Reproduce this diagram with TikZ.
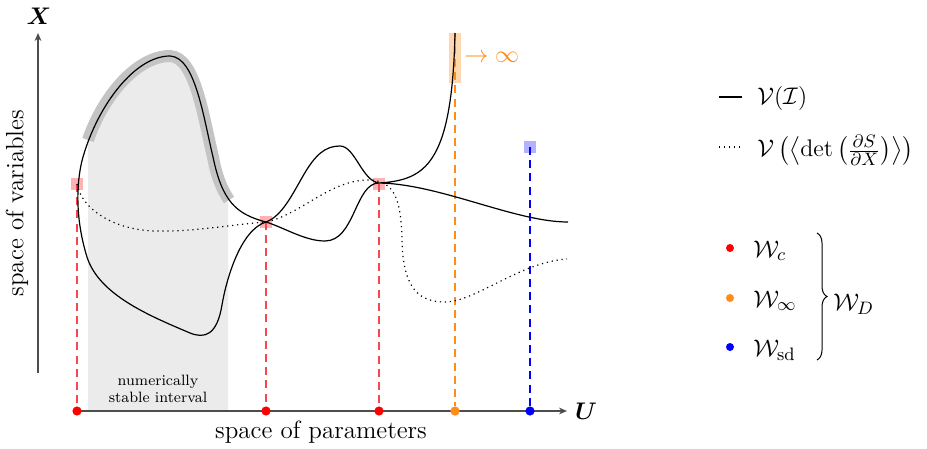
\documentclass[tikz,border=0pt]{standalone}
\usepackage{amsmath}
\usetikzlibrary{arrows.meta,decorations.pathreplacing}
\definecolor{WRed}{HTML}{FF0000}
\definecolor{WRedDash}{HTML}{F2484E}
\definecolor{WOrange}{HTML}{FF8C1A}
\definecolor{WBlue}{HTML}{0000FF}
\definecolor{WAxis}{HTML}{4D4D4D}
\definecolor{WStable}{HTML}{EBEBEB}
\definecolor{WBand}{HTML}{C4C4C4}
\tikzset{
  plAxis/.style={
    line width=0.7pt,
    draw=WAxis,
    -{Stealth[length=4pt,width=3.4pt]}
  },
  plCurve/.style={
    line width=0.6pt
  },
  plDotted/.style={
    plCurve,
    dash pattern=on 0.6pt off 1.9pt
  },
  plBand/.style={
    line width=6pt,
    draw=WBand
  },
  plDash/.style={
    line width=0.6pt,
    dash pattern=on 4pt off 2.6pt
  },
  plDot/.style={
    circle,
    fill,
    inner sep=0pt,
    minimum size=4.6pt
  },
  plMark/.style={
    rectangle,
    inner sep=0pt,
    minimum size=6pt
  },
  lgText/.style={
    font=\fontsize{13pt}{15pt}\selectfont,
    anchor=base west,
    inner sep=0pt
  },
  axText/.style={
    font=\fontsize{12.5pt}{15pt}\selectfont,
    inner sep=0pt
  }
}
\begin{document}
\begin{tikzpicture}[x=0.5pt, y=-0.5pt]
  \useasboundingbox (0,0) rectangle (927,449);

  % stable interval and highlighted branch
  \begin{scope}
    \clip (88,0) rectangle (228,411);
    \fill[WStable] (266,222) .. controls (235,214) and (222,200) .. (213,157)
      .. controls (203,115) and (195,57) .. (170,56)
      .. controls (135,56) and (98,105) .. (83,157) -- (83,411) -- (266,411) -- cycle;
  \end{scope}
  \draw[plBand] (229,200) .. controls (221,188) and (216,174) .. (213,157)
    .. controls (203,115) and (195,57) .. (170,56)
    .. controls (137,56) and (103,96) .. (88,140);
  \node[axText, align=center, font=\fontsize{7.5pt}{8.6pt}\selectfont] (stable) at (158,389) {numerically\\stable interval};

  % axes
  \coordinate (yBot) at (38,373);
  \coordinate (yTop) at (38,33);
  \coordinate (xStart) at (77,411);
  \coordinate (xEnd) at (567,411);
  \draw[plAxis] (yBot) -- (yTop);
  \draw[plAxis] (xStart) -- (xEnd);
  \node[plDot, WRed] (cRedA) at (77,411) {};
  \node[plDot, WRed] (cRedB) at (266,411) {};
  \node[plDot, WRed] (cRedC) at (379,411) {};
  \node[plDot, WOrange] (cOrange) at (455,411) {};
  \node[plDot, WBlue] (cBlue) at (530,411) {};

  \node[plMark, fill=red!30] (mRedA) at (77,184) {};
  \node[plMark, fill=red!30] (mRedB) at (266,222) {};
  \node[plMark, fill=red!30] (mRedC) at (379,184) {};
  \node[plMark, fill=WOrange!35, minimum height=25pt] (mOrange) at (455,58) {};
  \node[plMark, fill=blue!30] (mBlue) at (530,147) {};

  \draw[plDash, WRedDash] (mRedA.center) -- (cRedA.north);
  \draw[plDash, WRedDash] (mRedB.center) -- (cRedB.north);
  \draw[plDash, WRedDash] (mRedC.center) -- (cRedC.north);
  \draw[plDash, WOrange] (mOrange.north) -- (cOrange.north);
  \draw[plDash, WBlue] (mBlue.center) -- (cBlue.north);

  % curves
  \draw[plCurve] (568,222) .. controls (515,222) and (440,184) .. (379,183)
    .. controls (355,183) and (355,241) .. (325,241)
    .. controls (305,241) and (285,228) .. (266,222)
    .. controls (235,214) and (222,200) .. (213,157)
    .. controls (203,115) and (195,57) .. (170,56)
    .. controls (135,56) and (98,105) .. (83,157)
    .. controls (77,178) and (74,215) .. (87,257)
    .. controls (99,295) and (150,316) .. (190,333)
    .. controls (205,339) and (217,335) .. (222,305)
    .. controls (226,281) and (240,230) .. (266,222)
    .. controls (282,216) and (292,195) .. (303,176)
    .. controls (315,155) and (325,146) .. (340,146)
    .. controls (355,146) and (362,181) .. (379,183)
    .. controls (425,180) and (452,165) .. (455,33);
  \draw[plDotted] (77,184) .. controls (82,210) and (115,230) .. (155,231)
    .. controls (195,232) and (235,224) .. (266,222)
    .. controls (300,215) and (330,180) .. (368,180)
    .. controls (395,180) and (401,200) .. (402,240)
    .. controls (403,290) and (420,302) .. (445,302)
    .. controls (475,302) and (520,262) .. (567,259);

  % labels
  \node[axText, rotate=90] (yLabel) at (17,203) {space of variables};
  \node[axText] (xLabel) at (321,432) {space of parameters};
  \node[axText, font=\fontsize{12pt}{14pt}\selectfont] (xName) at (39,16) {$\boldsymbol{X}$};
  \node[axText, font=\fontsize{12pt}{14pt}\selectfont] (uName) at (586,411) {$\boldsymbol{U}$};
  \node[lgText, anchor=west, text=WOrange] (infLabel) at (464,57) {$\to\infty$};

  % legend
  \coordinate (lgSolidA) at (719,97);
  \coordinate (lgSolidB) at (742,97);
  \coordinate (lgDotA) at (719,147);
  \coordinate (lgDotB) at (742,147);
  \draw[plCurve] (lgSolidA) -- (lgSolidB);
  \draw[plDotted] (lgDotA) -- (lgDotB);
  \node[lgText] (lgV) at (757,105) {$\mathcal{V}(\mathcal{I})$};
  \node[lgText] (lgDet) at (757,157) {$\mathcal{V}\left(\left\langle\det\left(\frac{\partial S}{\partial X}\right)\right\rangle\right)$};
  \node[plDot, WRed, minimum size=4pt] (lgRed) at (730,248) {};
  \node[plDot, WOrange, minimum size=4pt] (lgOrange) at (730,298) {};
  \node[plDot, WBlue, minimum size=4pt] (lgBlue) at (730,347) {};
  \node[lgText] (lgWc) at (753,257) {$\mathcal{W}_c$};
  \node[lgText] (lgWinf) at (753,307) {$\mathcal{W}_\infty$};
  \node[lgText] (lgWsd) at (753,356) {$\mathcal{W}_{\mathrm{sd}}$};
  \coordinate (brTop) at (817,233);
  \coordinate (brBot) at (817,360);
  \draw[decorate, decoration={brace, amplitude=5pt}, line width=0.5pt] (brTop) -- (brBot);
  \node[lgText] (lgWD) at (833,310) {$\mathcal{W}_D$};
\end{tikzpicture}
\end{document}
